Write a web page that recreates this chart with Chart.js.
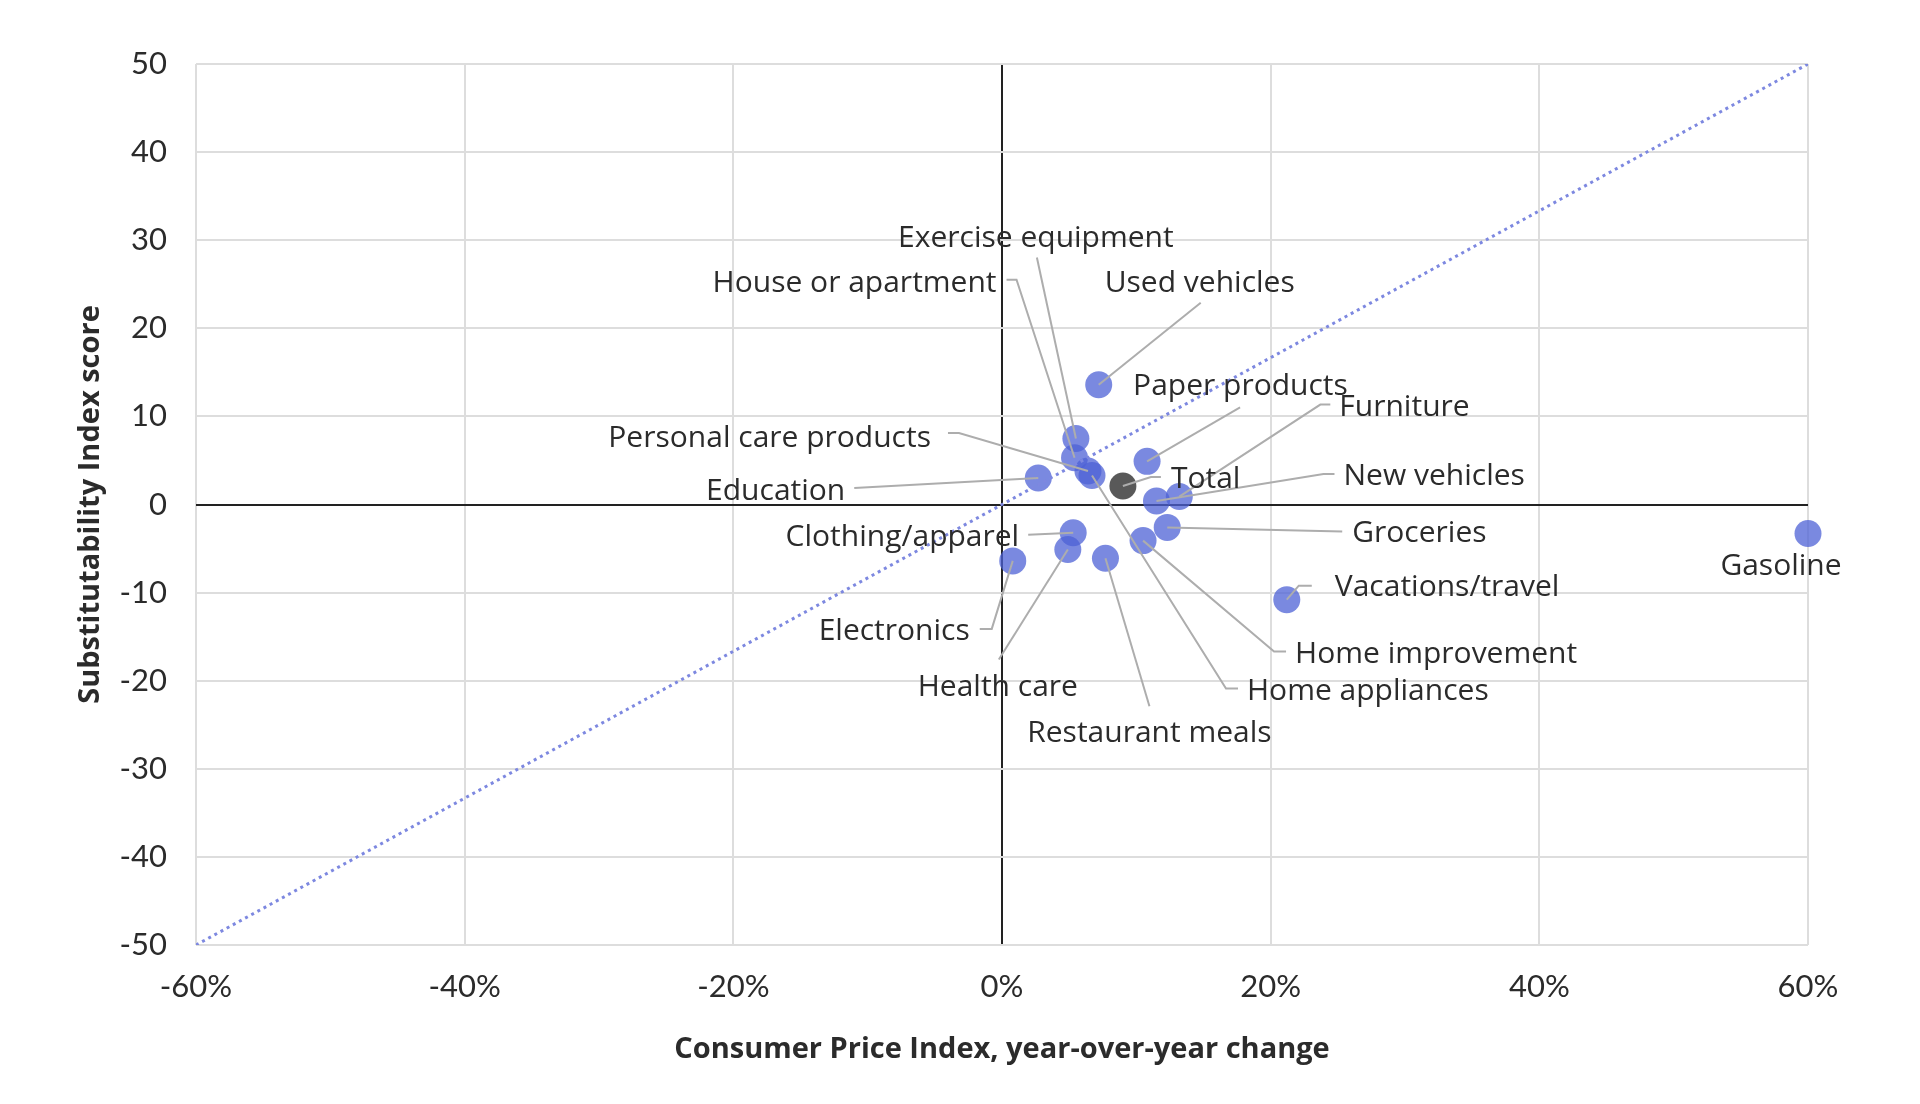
<!DOCTYPE html>
<html>
<head>
<meta charset="utf-8">
<script src="https://cdn.jsdelivr.net/npm/chart.js@4.4.0/dist/chart.umd.min.js"></script>
<style>
  html, body { margin: 0; padding: 0; background: #fff; }
  #wrap { width: 1920px; height: 1104px; }
</style>
</head>
<body>
<div id="wrap"><canvas id="chart"></canvas></div>
<script>
// CPI year-over-year change (%) vs Substitutability Index score
const categories = [
  "Used vehicles", "Exercise equipment", "House or apartment", "Personal care products",
  "Home appliances", "Education", "Total", "Paper products", "New vehicles", "Furniture",
  "Groceries", "Clothing/apparel", "Health care", "Electronics", "Restaurant meals",
  "Home improvement", "Vacations/travel", "Gasoline"
];
const cpiChange = [7.2, 5.5, 5.4, 6.4, 6.7, 2.7, 9.0, 10.8, 11.5, 13.2, 12.3, 5.3, 4.9, 0.8, 7.7, 10.5, 21.2, 60.0];
const substitutability = [13.6, 7.5, 5.3, 3.8, 3.3, 3.0, 2.1, 4.9, 0.4, 0.9, -2.6, -3.2, -5.1, -6.4, -6.1, -4.1, -10.8, -3.3];

// parity line
const diagonalX = [-60, 60];
const diagonalY = [-50, 50];

const xTicks = [-60, -40, -20, 0, 20, 40, 60];
const yTicks = [-50, -40, -30, -20, -10, 0, 10, 20, 30, 40, 50];

const FONT = "'Open Sans'";
const TICK_FONT = "Lato";
const TEXT = "#2b2b2b";

// label placement, pixel offsets from the point; leader runs point -> listed offsets
const labelLayout = {
  "Used vehicles":          { dx: 101,  dy: -102, align: "center", leader: [[102, -82]] },
  "Exercise equipment":     { dx: -40,  dy: -201, align: "center", leader: [[-39, -181]] },
  "House or apartment":     { dx: -78,  dy: -175, align: "right",  leader: [[-58, -178], [-68, -178]] },
  "Personal care products": { dx: -157, dy: -34,  align: "right",  leader: [[-129, -38], [-140, -38]] },
  "Home appliances":        { dx: 155,  dy: 215,  align: "left",   leader: [[134, 213], [146, 213]] },
  "Education":              { dx: -193, dy: 12,   align: "right",  leader: [[-184, 10]] },
  "Total":                  { dx: 48,   dy: -8,   align: "left",   leader: [[28, -9], [38, -9]] },
  "Paper products":         { dx: -14,  dy: -76,  align: "left",   leader: [[93, -54]] },
  "New vehicles":           { dx: 187,  dy: -26,  align: "left",   leader: [[167, -27], [178, -27]] },
  "Furniture":              { dx: 160,  dy: -90,  align: "left",   leader: [[141, -92], [151, -92]] },
  "Groceries":              { dx: 185,  dy: 5,    align: "left",   leader: [[175, 4]] },
  "Clothing/apparel":       { dx: -54,  dy: 4,    align: "right",  leader: [[-45, 2]] },
  "Health care":            { dx: -70,  dy: 137,  align: "center", leader: [[-69, 110]] },
  "Electronics":            { dx: -43,  dy: 70,   align: "right",  leader: [[-21, 68], [-33, 68]] },
  "Restaurant meals":       { dx: 44,   dy: 174,  align: "center", leader: [[44, 148]] },
  "Home improvement":       { dx: 152,  dy: 113,  align: "left",   leader: [[131, 111], [143, 111]] },
  "Vacations/travel":       { dx: 48,   dy: -13,  align: "left",   leader: [[12, -14], [25, -14]] },
  "Gasoline":               { dx: -27,  dy: 32,   align: "center" }
};

const leaderLabels = {
  id: "leaderLabels",
  afterDatasetsDraw(chart) {
    const ctx = chart.ctx;
    const meta = chart.getDatasetMeta(0);
    ctx.save();
    ctx.strokeStyle = "#adadad";
    ctx.lineWidth = 2;
    meta.data.forEach((pt, i) => {
      const lay = labelLayout[categories[i]];
      if (!lay || !lay.leader) return;
      ctx.beginPath();
      ctx.moveTo(pt.x, pt.y);
      lay.leader.forEach(([lx, ly]) => ctx.lineTo(pt.x + lx, pt.y + ly));
      ctx.stroke();
    });
    ctx.font = "30px " + FONT;
    ctx.fillStyle = TEXT;
    ctx.textBaseline = "middle";
    meta.data.forEach((pt, i) => {
      const lay = labelLayout[categories[i]];
      if (!lay) return;
      ctx.textAlign = lay.align;
      ctx.fillText(categories[i], pt.x + lay.dx, pt.y + lay.dy + 1);
    });
    ctx.restore();
  }
};

const ctx = document.getElementById("chart").getContext("2d");
const chart = new Chart(ctx, {
  type: "scatter",
  data: {
    datasets: [
      {
        label: "Categories",
        data: cpiChange.map((x, i) => ({ x: x, y: substitutability[i] })),
        pointRadius: 13.5,
        pointBorderWidth: 0,
        pointBackgroundColor: (c) =>
          categories[c.dataIndex] === "Total" ? "rgba(60, 60, 60, 0.85)" : "rgba(77, 97, 214, 0.75)",
        clip: false,
        order: 2
      },
      {
        type: "line",
        label: "Parity",
        data: diagonalX.map((x, i) => ({ x: x, y: diagonalY[i] })),
        showLine: true,
        borderColor: "#7d88e0",
        borderWidth: 3,
        borderDash: [3, 4],
        pointRadius: 0,
        fill: false,
        order: 1
      }
    ]
  },
  plugins: [leaderLabels],
  options: {
    responsive: true,
    maintainAspectRatio: false,
    devicePixelRatio: 1,
    animation: false,
    events: [],
    layout: { padding: { left: 0, right: 112, top: 64, bottom: 0 } },
    plugins: {
      legend: { display: false },
      tooltip: { enabled: false }
    },
    scales: {
      x: {
        type: "linear",
        min: -60,
        max: 60,
        afterBuildTicks: (s) => { s.ticks = xTicks.map((v) => ({ value: v })); },
        afterFit: (s) => { s.height = 159; },
        border: { display: false },
        grid: {
          drawTicks: false,
          color: (c) => (c.tick && c.tick.value === 0 ? "#222" : "#dddddd"),
          lineWidth: 2
        },
        ticks: {
          padding: 23,
          color: TEXT,
          font: { family: TICK_FONT, size: 31 },
          callback: (v) => v + "%"
        },
        title: {
          display: true,
          text: "Consumer Price Index, year-over-year change",
          color: TEXT,
          font: { family: FONT, size: 29, weight: "bold" },
          padding: { top: 0, bottom: 37 }
        }
      },
      y: {
        type: "linear",
        min: -50,
        max: 50,
        afterBuildTicks: (s) => { s.ticks = yTicks.map((v) => ({ value: v })); },
        afterFit: (s) => { s.width = 196; },
        border: { display: false },
        grid: {
          drawTicks: false,
          color: (c) => (c.tick && c.tick.value === 0 ? "#222" : "#dddddd"),
          lineWidth: 2
        },
        ticks: {
          padding: 29,
          color: TEXT,
          font: { family: TICK_FONT, size: 31 }
        },
        title: {
          display: true,
          text: "Substitutability Index score",
          color: TEXT,
          font: { family: FONT, size: 29, weight: "bold" },
          padding: { top: 73, bottom: 0 }
        }
      }
    }
  }
});
</script>
</body>
</html>
